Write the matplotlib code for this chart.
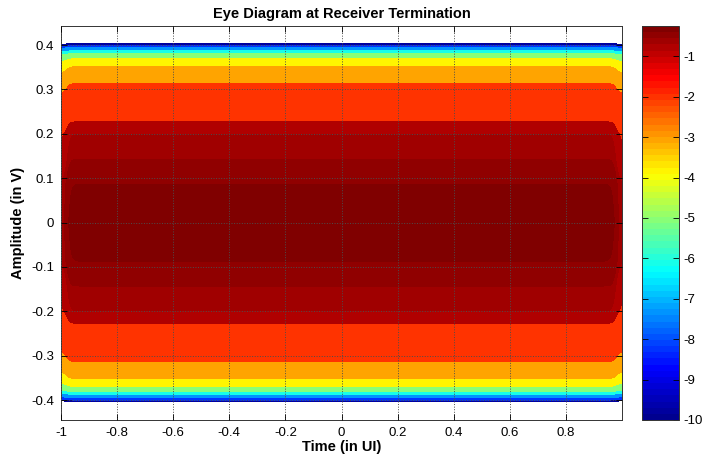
import numpy as np
import matplotlib
matplotlib.use("Agg")
import matplotlib.pyplot as plt
from matplotlib.colors import LinearSegmentedColormap, Normalize
from matplotlib.cm import ScalarMappable
from matplotlib.ticker import FormatStrFormatter

plt.rcParams['font.family'] = ['Liberation Sans', 'DejaVu Sans']
plt.rcParams['axes.unicode_minus'] = False

# contour boundaries (amplitude in V -> log value at that boundary)
boundary_amp = [0.0, 0.087, 0.143, 0.199, 0.227, 0.313, 0.351, 0.369, 0.381, 0.387, 0.395, 0.400, 0.403, 0.45]
boundary_val = [-0.27, -0.35, -0.56, -0.70, -1.0, -2.4, -3.4, -4.4, -5.6, -6.6, -7.8, -9.0, -10.0, -14.0]

# filled bands, outermost first
levels = [-10.0, -9.0, -7.8, -6.6, -5.6, -4.4, -3.4, -2.4, -1.0, -0.70, -0.56, -0.35, -0.2]
band_vals = [-9.8, -8.2, -7.3, -6.1, -5.1, -3.8, -3.0, -1.95, -0.75, -0.66, -0.47, -0.27]

cbar_ticks = [-10, -9, -8, -7, -6, -5, -4, -3, -2, -1]
x_ticks = [-1, -0.8, -0.6, -0.4, -0.2, 0, 0.2, 0.4, 0.6, 0.8]
y_ticks = [-0.4, -0.3, -0.2, -0.1, 0, 0.1, 0.2, 0.3, 0.4]

# MATLAB style jet
jet = LinearSegmentedColormap('mjet', {
    'red':   [(0, 0, 0), (0.375, 0, 0), (0.625, 1, 1), (0.875, 1, 1), (1, 0.5, 0.5)],
    'green': [(0, 0, 0), (0.125, 0, 0), (0.375, 1, 1), (0.625, 1, 1), (0.875, 0, 0), (1, 0, 0)],
    'blue':  [(0, 0.5625, 0.5625), (0.125, 1, 1), (0.375, 1, 1), (0.625, 0, 0), (1, 0, 0)],
}, N=64)
norm = Normalize(vmin=-10, vmax=-0.25)

# grid: flat eye, inner contours closing near +-1 UI
t = np.linspace(-1, 1, 1201)
v = np.linspace(-0.46, 0.46, 1381)
T, V = np.meshgrid(t, v)
edge = 0.35 / (1 + np.exp(((1 - np.abs(T)) - 0.02) / 0.006))
Z = np.interp(np.abs(V), boundary_amp, boundary_val) - edge

fig = plt.figure(figsize=(7.03, 4.54), dpi=100)
ax = fig.add_axes([61 / 703, 34 / 454, 561 / 703, 394 / 454])
band_colors = [jet(norm(b)) for b in band_vals]
ax.contourf(T, V, Z, levels=levels, colors=band_colors, antialiased=False)

ax.set_xlim(-1, 1)
ax.set_ylim(-0.445, 0.443)
ax.set_xticks(x_ticks)
ax.set_yticks(y_ticks)
ax.xaxis.set_major_formatter(FormatStrFormatter('%g'))
ax.yaxis.set_major_formatter(FormatStrFormatter('%g'))
ax.tick_params(direction='in', top=True, right=True, length=4, width=0.6, labelsize=9.5, pad=5)
ax.set_axisbelow(False)
ax.grid(True, linestyle=':', color='0.3', linewidth=0.7)
for s in ax.spines.values():
    s.set_linewidth(0.7)
    s.set_color('0.2')

ax.set_title('Eye Diagram at Receiver Termination', fontsize=10.5, fontweight='bold', pad=6)
ax.set_xlabel('Time (in UI)', fontsize=10.5, fontweight='bold', labelpad=1)
ax.set_ylabel('Amplitude (in V)', fontsize=10.5, fontweight='bold', labelpad=4)

cax = fig.add_axes([642 / 703, 34 / 454, 37 / 703, 394 / 454])
cb = fig.colorbar(ScalarMappable(norm=norm, cmap=jet), cax=cax)
cb.set_ticks(cbar_ticks)
cb.ax.yaxis.set_major_formatter(FormatStrFormatter('%g'))
cb.ax.tick_params(direction='in', left=True, right=True, length=4, width=0.6, labelsize=9.5, pad=3)
cb.outline.set_linewidth(0.7)
cb.outline.set_edgecolor('0.2')

fig.savefig('out.png', dpi=100)
